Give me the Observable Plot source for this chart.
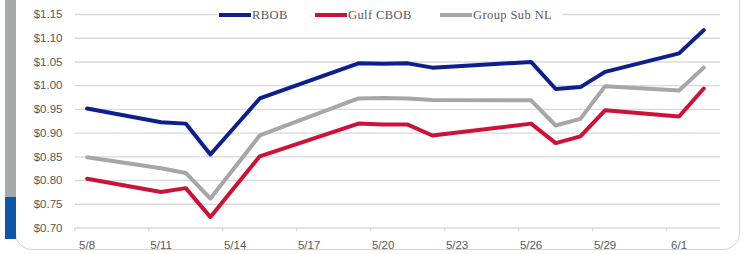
<!DOCTYPE html>
<html><head><meta charset="utf-8">
<script src="https://cdn.jsdelivr.net/npm/d3@7"></script>
<script src="https://cdn.jsdelivr.net/npm/@observablehq/plot@0.6"></script>
<style>
html,body{margin:0;padding:0;background:#fff;}
#wrap{position:relative;width:743px;height:254px;overflow:hidden;background:#fff;}
#frame{position:absolute;left:15px;top:-40px;width:725px;height:290px;border:1px solid #d6d6d6;border-radius:17px;box-sizing:border-box;}
#barGray{position:absolute;left:5px;top:0;width:11px;height:197px;background:#a7a9ac;}
#barBlue{position:absolute;left:5px;top:197px;width:11px;height:42px;background:#0f56a5;}
#chart{position:absolute;left:0;top:0;}
#legend{position:absolute;left:216px;top:7px;width:346px;height:16px;background:#fff;}
.item{position:absolute;top:0;height:16px;}
.sw{position:absolute;top:6px;width:32px;height:4px;}
.lbl{position:absolute;top:0;left:33px;white-space:nowrap;font-family:"Liberation Serif","DejaVu Serif",serif;font-size:12.5px;line-height:16px;color:#595959;letter-spacing:0.4px;}
</style></head><body>
<div id="wrap">
  <div id="frame"></div>
  <div id="barGray"></div><div id="barBlue"></div>
  <div id="chart"></div>
  <div id="legend"></div>
</div>
<script>
// ---- data ----
const dates = ["5/8","5/11","5/12","5/13","5/15","5/19","5/20","5/21","5/22","5/26","5/27","5/28","5/29","6/1","6/2"];
const rbob       = [0.952,0.923,0.920,0.855,0.973,1.047,1.046,1.047,1.038,1.050,0.993,0.997,1.029,1.068,1.117];
const gulfCbob   = [0.804,0.776,0.784,0.723,0.851,0.920,0.918,0.918,0.895,0.920,0.879,0.893,0.948,0.935,0.994];
const groupSubNL = [0.849,0.826,0.816,0.762,0.895,0.973,0.974,0.973,0.970,0.969,0.916,0.930,0.999,0.990,1.038];
const seriesNames  = ["RBOB","Gulf CBOB","Group Sub NL"];
const seriesColors = ["#0c1f8c","#cc1236","#a6a6a6"];
const yTicks = [0.70,0.75,0.80,0.85,0.90,0.95,1.00,1.05,1.10,1.15];
const xTickLabels = ["5/8","5/11","5/14","5/17","5/20","5/23","5/26","5/29","6/1"];

// ---- build ----
const YEAR = 2020, DAY = 864e5;
const parseMD = s => { const [m,d] = s.split("/").map(Number); return new Date(Date.UTC(YEAR, m-1, d)); };
const seriesValues = [rbob, gulfCbob, groupSubNL];
const rows = seriesNames.flatMap((name, k) =>
  dates.map((d, i) => ({series: name, date: parseMD(d), value: seriesValues[k][i]})));
const tickDates = xTickLabels.map(parseMD);
const boundaries = tickDates.map(d => new Date(+d - DAY/2));
const first = parseMD(dates[0]), last = parseMD(dates[dates.length-1]);
const fmtMD = d => `${d.getUTCMonth()+1}/${d.getUTCDate()}`;

const chart = Plot.plot({
  width: 743, height: 254,
  marginTop: 14, marginBottom: 26.5, marginLeft: 75, marginRight: 23,
  style: {fontFamily: "'Liberation Sans', Arial, sans-serif", fontSize: "11.5px", color: "#595959", background: "transparent"},
  x: {type: "utc", domain: [new Date(+first - 0.47*DAY), new Date(+last + 0.68*DAY)], label: null},
  y: {domain: [0.70, 1.15], label: null},
  color: {domain: seriesNames, range: seriesColors},
  marks: [
    Plot.gridY(yTicks, {stroke: "#d9d9d9", strokeOpacity: 1, strokeWidth: 1.4}),
    Plot.axisY(yTicks, {tickSize: 0, tickPadding: 13, tickFormat: d => "$" + d.toFixed(2), fill: "#595959", label: null}),
    Plot.axisX(boundaries, {tickSize: 4, stroke: "#d9d9d9", tickFormat: () => "", strokeWidth: 1.2, label: null}),
    Plot.axisX(tickDates, {tickSize: 0, tickPadding: 12.5, tickFormat: fmtMD, fill: "#595959", letterSpacing: 1.2, label: null}),
    Plot.line(rows, {x: "date", y: "value", z: "series", stroke: "series", strokeWidth: 4, strokeLinejoin: "round", strokeLinecap: "round"})
  ]
});
document.getElementById("chart").appendChild(chart);

// ---- legend ----
const legend = document.getElementById("legend");
const legendLeft = [3, 99, 224];
seriesNames.forEach((name, i) => {
  const it = document.createElement("div");
  it.className = "item";
  it.style.left = legendLeft[i] + "px";
  it.innerHTML = `<div class="sw" style="background:${seriesColors[i]}"></div><div class="lbl">${name}</div>`;
  legend.appendChild(it);
});
</script>
</body></html>
